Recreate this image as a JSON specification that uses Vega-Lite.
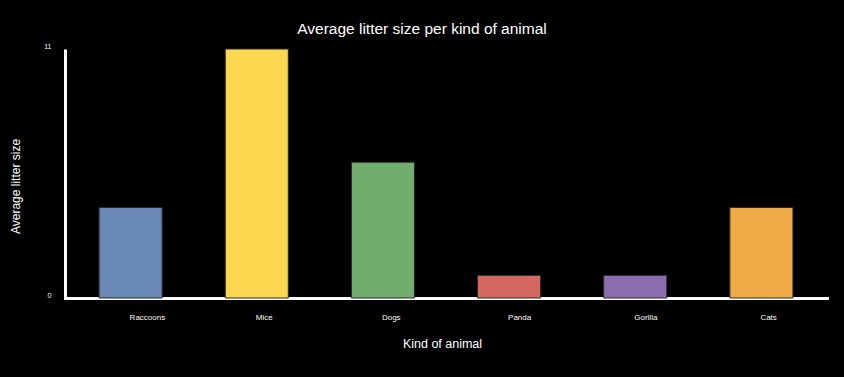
{
  "$schema": "https://vega.github.io/schema/vega-lite/v6.json",
  "width": 762,
  "height": 249,
  "autosize": {"type": "none"},
  "padding": {"left": 65, "top": 49, "right": 17, "bottom": 79},
  "background": "#000000",
  "config": {
    "view": {"stroke": null},
    "font": "Liberation Sans"
  },
  "title": {
    "text": "Average litter size per kind of animal",
    "color": "#ffffff",
    "fontSize": 15.5,
    "fontWeight": "normal",
    "font": "Liberation Sans",
    "anchor": "middle",
    "dx": -24,
    "offset": 5
  },
  "data": {
    "values": [
      {"animal": "Raccoons", "litter": 4, "color": "#6a88b6"},
      {"animal": "Mice", "litter": 11, "color": "#fdd74f"},
      {"animal": "Dogs", "litter": 6, "color": "#71ad6d"},
      {"animal": "Panda", "litter": 1, "color": "#d5695f"},
      {"animal": "Gorilla", "litter": 1, "color": "#8c6db0"},
      {"animal": "Cats", "litter": 4, "color": "#eeaa45"}
    ]
  },
  "mark": {"type": "bar", "stroke": "#2a2a2a", "strokeWidth": 1},
  "encoding": {
    "x": {
      "field": "animal",
      "type": "nominal",
      "sort": null,
      "scale": {"paddingInner": 0.5, "paddingOuter": 0.27},
      "axis": {
        "title": "Kind of animal",
        "titleColor": "#ffffff",
        "titleFontSize": 12.5,
        "titleFontWeight": "normal",
        "titleBaseline": "top",
        "titleY": 39,
        "titleX": 377,
        "labelAngle": 0,
        "labelAlign": "left",
        "labelOffset": -1,
        "labelColor": "#fffdf5",
        "labelFontSize": 8,
        "labelPadding": 15,
        "ticks": false,
        "domainColor": "#ffffff",
        "domainWidth": 3,
        "domainCap": "square"
      }
    },
    "y": {
      "field": "litter",
      "type": "quantitative",
      "scale": {"domain": [0, 11], "nice": false},
      "axis": {
        "title": "Average litter size",
        "titleColor": "#ffffff",
        "titleFontSize": 12,
        "titleFontWeight": "normal",
        "titleX": -50,
        "titleY": 137,
        "titleAngle": -90,
        "titleBaseline": "middle",
        "values": [0, 11],
        "labelColor": "#fffdf5",
        "labelFontSize": 7,
        "labelPadding": 14,
        "labelOffset": -3,
        "ticks": false,
        "grid": false,
        "domainColor": "#ffffff",
        "domainWidth": 3
      }
    },
    "color": {"field": "color", "type": "nominal", "scale": null, "legend": null}
  }
}
